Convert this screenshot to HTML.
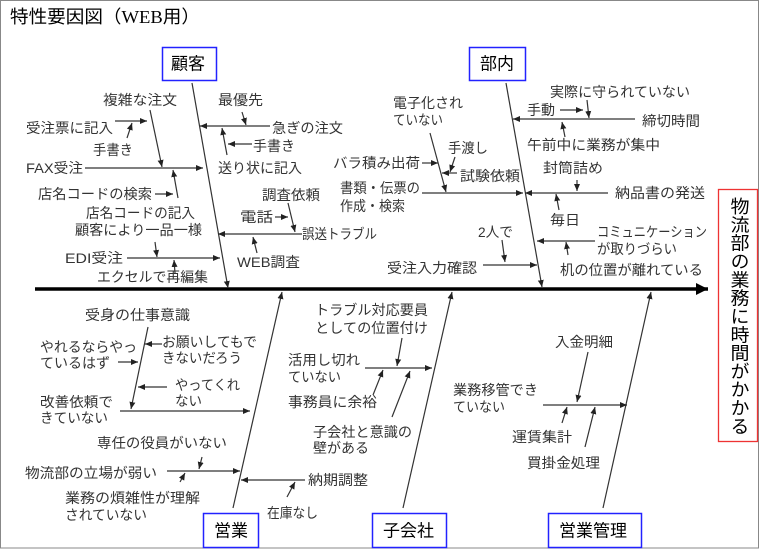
<!DOCTYPE html>
<html><head><meta charset="utf-8"><style>
html,body{margin:0;padding:0;background:#fff}
svg{display:block}
text{font-family:"Liberation Sans","Noto Sans CJK JP",sans-serif;font-size:14px;fill:#333;dominant-baseline:central}
.c{font-size:17px;fill:#000}
line{stroke:#333;stroke-width:1.2}
</style></head><body>
<svg width="760" height="549" viewBox="0 0 760 549" xmlns="http://www.w3.org/2000/svg">
<defs>
<marker id="a" markerWidth="8" markerHeight="8" refX="7" refY="4" orient="auto" markerUnits="userSpaceOnUse"><path d="M0,1 L7,4 L0,7 z" fill="#222"/></marker>
<marker id="b" markerWidth="14" markerHeight="14" refX="12" refY="7" orient="auto" markerUnits="userSpaceOnUse"><path d="M0,1 L12,7 L0,13 z" fill="#000"/></marker>
</defs>
<rect x="0.5" y="0.5" width="758" height="547.5" fill="none" stroke="#888"/>
<text x="10" y="17" style="font-size:18px;fill:#000" textLength="190" lengthAdjust="spacingAndGlyphs">特性要因図（<tspan style="font-family:'Liberation Serif',serif">WEB</tspan>用）</text>

<!-- spine -->
<line x1="35" y1="289" x2="708" y2="289" style="stroke:#000;stroke-width:3.5" marker-end="url(#b)"/>
<!-- effect -->
<rect x="718.5" y="189.5" width="39" height="252" fill="#fff" stroke="#e33" stroke-width="1.3"/>
<text x="738" y="316" class="c" style="writing-mode:tb;font-size:19px;dominant-baseline:auto;text-anchor:middle" textLength="238" lengthAdjust="spacingAndGlyphs">物流部の業務に時間がかかる</text>

<!-- category boxes -->
<rect x="162.5" y="47.5" width="54" height="33" fill="#fff" stroke="#22f" stroke-width="1.5"/><text x="171" y="64" class="c">顧客</text>
<rect x="469.5" y="47.5" width="56" height="33" fill="#fff" stroke="#22f" stroke-width="1.5"/><text x="480" y="64" class="c">部内</text>
<rect x="203.5" y="513.5" width="55" height="34" fill="#fff" stroke="#22f" stroke-width="1.5"/><text x="214" y="531" class="c">営業</text>
<rect x="372.5" y="513.5" width="74" height="34" fill="#fff" stroke="#22f" stroke-width="1.5"/><text x="383" y="531" class="c">子会社</text>
<rect x="548.5" y="513.5" width="93" height="34" fill="#fff" stroke="#22f" stroke-width="1.5"/><text x="559" y="531" class="c">営業管理</text>

<!-- bones -->
<line x1="192" y1="83" x2="228" y2="288" marker-end="url(#a)"/>
<line x1="506" y1="83" x2="542" y2="287" marker-end="url(#a)"/>
<line x1="233" y1="508" x2="282" y2="292" marker-end="url(#a)"/>
<line x1="403" y1="508" x2="452" y2="292" marker-end="url(#a)"/>
<line x1="603" y1="508" x2="651" y2="292" marker-end="url(#a)"/>

<!-- 顧客 -->
<text x="103" y="100" textLength="74" lengthAdjust="spacingAndGlyphs">複雑な注文</text>
<text x="218" y="100" textLength="45" lengthAdjust="spacingAndGlyphs">最優先</text>
<text x="26" y="128" textLength="87" lengthAdjust="spacingAndGlyphs">受注票に記入</text>
<line x1="115" y1="121" x2="147" y2="121" marker-end="url(#a)"/>
<text x="93" y="150" textLength="40" lengthAdjust="spacingAndGlyphs">手書き</text>
<line x1="127" y1="138" x2="132" y2="123" marker-end="url(#a)"/>
<line x1="270" y1="126" x2="200" y2="126" marker-end="url(#a)"/>
<text x="272" y="128" textLength="71" lengthAdjust="spacingAndGlyphs">急ぎの注文</text>
<line x1="242" y1="112" x2="246" y2="125" marker-end="url(#a)"/>
<text x="253" y="146" textLength="42" lengthAdjust="spacingAndGlyphs">手書き</text>
<line x1="252" y1="144" x2="228" y2="144" marker-end="url(#a)"/>
<text x="218" y="168" textLength="84" lengthAdjust="spacingAndGlyphs">送り状に記入</text>
<line x1="227" y1="155" x2="222" y2="128" marker-end="url(#a)"/>
<text x="26" y="168" textLength="57" lengthAdjust="spacingAndGlyphs">FAX受注</text>
<line x1="85" y1="168" x2="203" y2="168" marker-end="url(#a)"/>
<line x1="150" y1="110" x2="162" y2="167" marker-end="url(#a)"/>
<text x="38" y="194" textLength="114" lengthAdjust="spacingAndGlyphs">店名コードの検索</text>
<line x1="155" y1="194" x2="173" y2="194" marker-end="url(#a)"/>
<text x="86" y="213" textLength="109" lengthAdjust="spacingAndGlyphs">店名コードの記入</text>
<line x1="178" y1="198" x2="173" y2="170" marker-end="url(#a)"/>
<text x="262" y="195" textLength="58" lengthAdjust="spacingAndGlyphs">調査依頼</text>
<text x="240" y="217" textLength="33" lengthAdjust="spacingAndGlyphs">電話</text>
<line x1="275" y1="217" x2="288" y2="217" marker-end="url(#a)"/>
<line x1="288" y1="203" x2="295" y2="232" marker-end="url(#a)"/>
<line x1="302" y1="234" x2="218" y2="234" marker-end="url(#a)"/>
<text x="302" y="234" textLength="75" lengthAdjust="spacingAndGlyphs">誤送トラブル</text>
<text x="75" y="230" textLength="127" lengthAdjust="spacingAndGlyphs">顧客により一品一様</text>
<text x="237" y="262" textLength="63" lengthAdjust="spacingAndGlyphs">WEB調査</text>
<line x1="257" y1="253" x2="253" y2="237" marker-end="url(#a)"/>
<text x="65" y="258" textLength="58" lengthAdjust="spacingAndGlyphs">EDI受注</text>
<line x1="127" y1="258" x2="220" y2="258" marker-end="url(#a)"/>
<line x1="155" y1="242" x2="157" y2="257" marker-end="url(#a)"/>
<line x1="175" y1="273" x2="174" y2="260" marker-end="url(#a)"/>
<text x="97" y="277" textLength="111" lengthAdjust="spacingAndGlyphs">エクセルで再編集</text>

<!-- 部内 -->
<text x="550" y="92" textLength="140" lengthAdjust="spacingAndGlyphs">実際に守られていない</text>
<text x="393" y="103" textLength="70" lengthAdjust="spacingAndGlyphs">電子化され</text>
<text x="393" y="120" textLength="50" lengthAdjust="spacingAndGlyphs">ていない</text>
<text x="527" y="110" textLength="28" lengthAdjust="spacingAndGlyphs">手動</text>
<line x1="560" y1="110" x2="583" y2="110" marker-end="url(#a)"/>
<line x1="587" y1="100" x2="589" y2="118" marker-end="url(#a)"/>
<line x1="635" y1="119" x2="513" y2="119" marker-end="url(#a)"/>
<text x="642" y="121" textLength="58" lengthAdjust="spacingAndGlyphs">締切時間</text>
<text x="527" y="145" textLength="133" lengthAdjust="spacingAndGlyphs">午前中に業務が集中</text>
<line x1="565" y1="137" x2="562" y2="122" marker-end="url(#a)"/>
<text x="448" y="148" textLength="40" lengthAdjust="spacingAndGlyphs">手渡し</text>
<line x1="455" y1="157" x2="450" y2="172" marker-end="url(#a)"/>
<text x="333" y="163" textLength="87" lengthAdjust="spacingAndGlyphs">バラ積み出荷</text>
<line x1="422" y1="163" x2="438" y2="163" marker-end="url(#a)"/>
<line x1="457" y1="173" x2="442" y2="173" marker-end="url(#a)"/>
<text x="460" y="176" textLength="60" lengthAdjust="spacingAndGlyphs">試験依頼</text>
<line x1="430" y1="133" x2="446" y2="192" marker-end="url(#a)"/>
<line x1="422" y1="193" x2="523" y2="193" marker-end="url(#a)"/>
<text x="340" y="188" textLength="80" lengthAdjust="spacingAndGlyphs">書類・伝票の</text>
<text x="340" y="206" textLength="65" lengthAdjust="spacingAndGlyphs">作成・検索</text>
<text x="543" y="168" textLength="60" lengthAdjust="spacingAndGlyphs">封筒詰め</text>
<line x1="577" y1="180" x2="577" y2="191" marker-end="url(#a)"/>
<line x1="608" y1="193" x2="525" y2="193" marker-end="url(#a)"/>
<text x="615" y="193" textLength="90" lengthAdjust="spacingAndGlyphs">納品書の発送</text>
<text x="550" y="220" textLength="30" lengthAdjust="spacingAndGlyphs">毎日</text>
<line x1="559" y1="210" x2="556" y2="194" marker-end="url(#a)"/>
<text x="478" y="232" textLength="35" lengthAdjust="spacingAndGlyphs">2人で</text>
<line x1="502" y1="240" x2="505" y2="262" marker-end="url(#a)"/>
<text x="387" y="268" textLength="90" lengthAdjust="spacingAndGlyphs">受注入力確認</text>
<line x1="483" y1="265" x2="537" y2="265" marker-end="url(#a)"/>
<text x="597" y="232" textLength="110" lengthAdjust="spacingAndGlyphs">コミュニケーション</text>
<text x="597" y="249" textLength="80" lengthAdjust="spacingAndGlyphs">が取りづらい</text>
<line x1="595" y1="241" x2="537" y2="241" marker-end="url(#a)"/>
<text x="560" y="270" textLength="143" lengthAdjust="spacingAndGlyphs">机の位置が離れている</text>
<line x1="568" y1="255" x2="566" y2="242" marker-end="url(#a)"/>

<!-- 営業 -->
<text x="85" y="315" textLength="105" lengthAdjust="spacingAndGlyphs">受身の仕事意識</text>
<line x1="148" y1="327" x2="131" y2="409" marker-end="url(#a)"/>
<text x="40" y="347" textLength="97" lengthAdjust="spacingAndGlyphs">やれるならやっ</text>
<text x="40" y="363" textLength="70" lengthAdjust="spacingAndGlyphs">ているはず</text>
<line x1="118" y1="362" x2="138" y2="362" marker-end="url(#a)"/>
<text x="162" y="342" textLength="95" lengthAdjust="spacingAndGlyphs">お願いしてもで</text>
<text x="162" y="358" textLength="80" lengthAdjust="spacingAndGlyphs">きないだろう</text>
<line x1="162" y1="344" x2="145" y2="344" marker-end="url(#a)"/>
<text x="175" y="385" textLength="65" lengthAdjust="spacingAndGlyphs">やってくれ</text>
<text x="175" y="401" textLength="27" lengthAdjust="spacingAndGlyphs">ない</text>
<line x1="167" y1="387" x2="138" y2="387" marker-end="url(#a)"/>
<text x="40" y="402" textLength="73" lengthAdjust="spacingAndGlyphs">改善依頼で</text>
<text x="40" y="418" textLength="68" lengthAdjust="spacingAndGlyphs">きていない</text>
<line x1="120" y1="411" x2="250" y2="411" marker-end="url(#a)"/>
<text x="97" y="443" textLength="130" lengthAdjust="spacingAndGlyphs">専任の役員がいない</text>
<text x="25" y="473" textLength="132" lengthAdjust="spacingAndGlyphs">物流部の立場が弱い</text>
<line x1="167" y1="471" x2="240" y2="471" marker-end="url(#a)"/>
<line x1="202" y1="457" x2="199" y2="469" marker-end="url(#a)"/>
<line x1="180" y1="482" x2="185" y2="473" marker-end="url(#a)"/>
<text x="65" y="498" textLength="135" lengthAdjust="spacingAndGlyphs">業務の煩雑性が理解</text>
<text x="65" y="515" textLength="82" lengthAdjust="spacingAndGlyphs">されていない</text>
<line x1="305" y1="480" x2="241" y2="480" marker-end="url(#a)"/>
<text x="308" y="480" textLength="60" lengthAdjust="spacingAndGlyphs">納期調整</text>
<text x="267" y="513" textLength="51" lengthAdjust="spacingAndGlyphs">在庫なし</text>
<line x1="287" y1="497" x2="295" y2="482" marker-end="url(#a)"/>

<!-- 子会社 -->
<text x="315" y="310" textLength="113" lengthAdjust="spacingAndGlyphs">トラブル対応要員</text>
<text x="315" y="328" textLength="113" lengthAdjust="spacingAndGlyphs">としての位置付け</text>
<text x="288" y="360" textLength="72" lengthAdjust="spacingAndGlyphs">活用し切れ</text>
<text x="288" y="377" textLength="53" lengthAdjust="spacingAndGlyphs">ていない</text>
<line x1="365" y1="368" x2="432" y2="368" marker-end="url(#a)"/>
<line x1="402" y1="338" x2="397" y2="366" marker-end="url(#a)"/>
<text x="288" y="402" textLength="89" lengthAdjust="spacingAndGlyphs">事務員に余裕</text>
<line x1="373" y1="395" x2="383" y2="370" marker-end="url(#a)"/>
<text x="313" y="432" textLength="99" lengthAdjust="spacingAndGlyphs">子会社と意識の</text>
<text x="313" y="448" textLength="56" lengthAdjust="spacingAndGlyphs">壁がある</text>
<line x1="392" y1="417" x2="410" y2="371" marker-end="url(#a)"/>

<!-- 営業管理 -->
<text x="555" y="342" textLength="58" lengthAdjust="spacingAndGlyphs">入金明細</text>
<line x1="588" y1="352" x2="577" y2="402" marker-end="url(#a)"/>
<text x="453" y="390" textLength="85" lengthAdjust="spacingAndGlyphs">業務移管でき</text>
<text x="453" y="407" textLength="52" lengthAdjust="spacingAndGlyphs">ていない</text>
<line x1="543" y1="405" x2="627" y2="405" marker-end="url(#a)"/>
<text x="512" y="437" textLength="60" lengthAdjust="spacingAndGlyphs">運賃集計</text>
<line x1="562" y1="423" x2="567" y2="407" marker-end="url(#a)"/>
<text x="527" y="463" textLength="73" lengthAdjust="spacingAndGlyphs">買掛金処理</text>
<line x1="585" y1="447" x2="595" y2="407" marker-end="url(#a)"/>
</svg>
</body></html>
